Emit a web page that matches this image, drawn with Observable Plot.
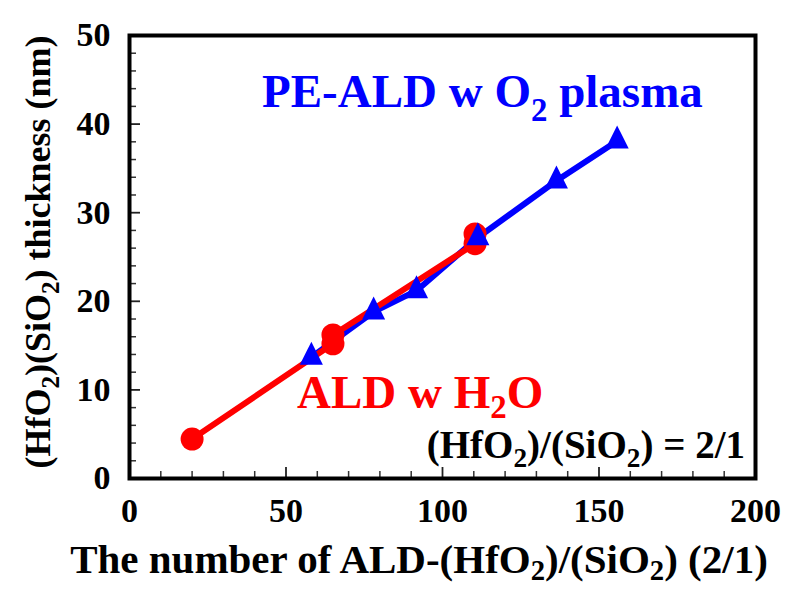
<!DOCTYPE html>
<html><head><meta charset="utf-8">
<script src="https://cdn.jsdelivr.net/npm/d3@7"></script>
<script src="https://cdn.jsdelivr.net/npm/@observablehq/plot@0.6"></script>
<style>body{margin:0;background:#fff}</style>
</head><body><div id="chart"></div>
<script>
// ALD w H2O (red circles)
const aldCycles = [20, 65, 65, 110.4, 110.4];
const aldThickness = [4.45, 15.2, 16.2, 26.5, 27.6];
// PE-ALD w O2 plasma (blue triangles)
const peCycles = [58.1, 78.0, 91.7, 111.3, 136.4, 155.8];
const peThickness = [13.7, 18.8, 21.2, 27.2, 33.6, 38.1];
// tick values
const xMajor = [0, 50, 100, 150, 200];
const yMajor = [0, 10, 20, 30, 40, 50];
const xMinor = [10, 20, 30, 40, 60, 70, 80, 90, 110, 120, 130, 140, 160, 170, 180, 190];
const yMinor = [2, 4, 6, 8, 12, 14, 16, 18, 22, 24, 26, 28, 32, 34, 36, 38, 42, 44, 46, 48];

const W = 786, H = 589, mL = 129, mR = 31, mT = 35, mB = 111;
const innerW = W - mL - mR, innerH = H - mT - mB;
const FONT = "'Liberation Serif', 'Times New Roman', serif";
const RED = "#ff0000", BLUE = "#0000ff";

const ald = aldCycles.map((x, i) => ({x, y: aldThickness[i]}));
const pe = peCycles.map((x, i) => ({x, y: peThickness[i]}));

const tri = {
  draw(ctx, size) {
    const r = Math.sqrt(size / Math.PI);
    const hw = r * 1.28, h = r * 2.56;
    ctx.moveTo(0, -h * 2 / 3);
    ctx.lineTo(hw, h / 3);
    ctx.lineTo(-hw, h / 3);
    ctx.closePath();
  }
};

const plot = Plot.plot({
  width: W, height: H,
  marginLeft: mL, marginRight: mR, marginTop: mT, marginBottom: mB,
  style: {fontFamily: FONT, background: "#fff"},
  x: {domain: [0, 200]},
  y: {domain: [0, 50]},
  marks: [
    Plot.tickX(xMinor, {x: d => d, insetTop: innerH - 7, stroke: "#333", strokeWidth: 1.5}),
    Plot.tickX(xMajor, {x: d => d, insetTop: innerH - 11, stroke: "#222", strokeWidth: 1.8}),
    Plot.tickY(yMinor, {y: d => d, insetRight: innerW - 7, stroke: "#333", strokeWidth: 1.5}),
    Plot.tickY(yMajor, {y: d => d, insetRight: innerW - 11, stroke: "#222", strokeWidth: 1.8}),
    Plot.axisX({ticks: xMajor, tickSize: 0, tickPadding: 19, fontSize: 34, fontWeight: "bold", fontFamily: FONT, fill: "#000", tickFormat: d => String(d), label: null}),
    Plot.axisY({ticks: yMajor, tickSize: 0, tickPadding: 19, fontSize: 34, fontWeight: "bold", fontFamily: FONT, fill: "#000", tickFormat: d => String(d), label: null}),
    Plot.frame({stroke: "#000", strokeWidth: 4}),
    Plot.line(pe, {x: "x", y: "y", stroke: BLUE, strokeWidth: 6}),
    Plot.line(ald, {x: "x", y: "y", stroke: RED, strokeWidth: 6}),
    Plot.dot(ald, {x: "x", y: "y", r: 11.5, fill: RED, stroke: "none"}),
    Plot.dot(pe, {x: "x", y: "y", r: 9, symbol: tri, fill: BLUE, stroke: "none"})
  ]
});
document.getElementById("chart").appendChild(plot);

const xs = plot.scale("x"), ys = plot.scale("y");
const svg = d3.select(plot);

function rich(parent, parts, fs, shift) {
  let shifted = false;
  parts.forEach(([s, sub]) => {
    const t = parent.append("tspan").text(s);
    if (sub) { t.attr("font-size", fs * 0.7).attr("dy", fs * shift); shifted = true; }
    else if (shifted) { t.attr("dy", -fs * shift); shifted = false; }
  });
}
function label(x, y, parts, fs, color, anchor, shift, rotate) {
  const t = svg.append("text")
    .attr("font-family", FONT).attr("font-weight", "bold")
    .attr("font-size", fs).attr("fill", color)
    .attr("text-anchor", anchor);
  if (rotate) t.attr("transform", `translate(${x},${y}) rotate(-90)`);
  else t.attr("x", x).attr("y", y);
  rich(t, parts, fs, shift);
  return t;
}

// series annotations (data-anchored)
label(xs.apply(42.5), ys.apply(41.9), [["PE-ALD w O"], ["2", true], [" plasma"]], 47, BLUE, "start", 0.3);
label(xs.apply(53.7), ys.apply(7.85), [["ALD w H"], ["2", true], ["O"]], 47, RED, "start", 0.2);
label(xs.apply(196.8), ys.apply(2.3), [["(HfO"], ["2", true], [")/(SiO"], ["2", true], [") = 2/1"]], 39, "#000", "end", 0.25);

// axis titles
label(419, 573, [["The number of ALD-(HfO"], ["2", true], [")/(SiO"], ["2", true], [") (2/1)"]], 41, "#000", "middle", 0.18);
label(50, 252, [["(HfO"], ["2", true], [")(SiO"], ["2", true], [") thickness (nm)"]], 36, "#000", "middle", 0.25, true);
</script>
</body></html>
